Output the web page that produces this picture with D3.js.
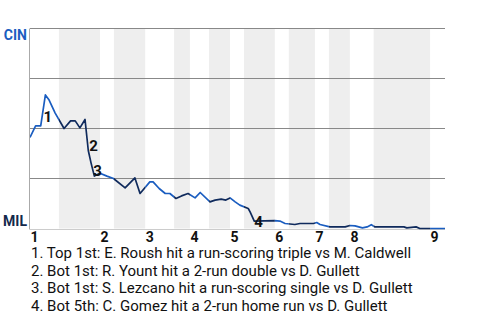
<!DOCTYPE html>
<html>
<head>
<meta charset="utf-8">
<script src="https://cdn.jsdelivr.net/npm/d3@7"></script>
<style>
  body { margin: 0; background: #fff; }
  svg { font-family: Roboto, "Liberation Sans", sans-serif; }
</style>
</head>
<body>
<svg width="480" height="320"></svg>
<script>
// game progress (play units) and CIN win probability (%)
var plays = [0, 1.2, 2.3, 3.3, 4.1, 5.4, 7.3, 8.7, 9.7, 10.7, 11.8, 12.5, 13.1, 13.8,
  15, 16.5, 17.9, 20.4, 22.5, 23.6, 25.7, 26.4, 27.7, 29, 30, 31.3, 32.5, 33.9,
  35.4, 36.5, 38.6, 39.7, 41, 42, 42.9, 44, 45, 46.8, 47.2, 48.1, 52.5, 53.6,
  54.7, 56.8, 57.9, 60.8, 61.5, 62.2, 64.3, 67.6, 68.6, 69.7, 71.3, 72.3, 73.2,
  74, 80.2, 80.8, 82.8, 83.6, 89];
var cinProb = [45.5, 51.3, 51.3, 66.8, 64.2, 57.7, 50, 53.8, 53.8, 50.3, 54.5, 39, 32.7, 26.2,
  27.6, 26.2, 25, 20.3, 25.3, 17.5, 23.3, 23.3, 20, 17.5, 17.5, 15, 16.3, 17.5,
  15.3, 18, 13.3, 14.2, 14.7, 14.2, 15.3, 13.3, 11.7, 10, 8.3, 3.7, 3.9, 3.7,
  2.5, 2, 2.5, 2.5, 3, 2, 0.8, 0.8, 1.5, 1.3, 0.3, 0.8, 1.9,
  0.8, 0.8, 0.3, 0.8, 0, 0];

// half-inning boundaries (top 1st, bot 1st, top 2nd, ...)
var halfStarts = [0, 6.2, 15, 18, 24.7, 30.9, 34.3, 38.4, 42.9, 45.9, 52.5, 55.5,
  61.1, 64.1, 68.6, 73.7, 85.8];
var gameEnd = 89;
var inningLabels = ["1", "2", "3", "4", "5", "6", "7", "8", "9"];

var teams = ["CIN", "MIL"];
var eventPlays = [3.3, 12.5, 13.8, 48.1];
var eventLabels = ["1", "2", "3", "4"];
var eventNotes = [
  "1. Top 1st: E. Roush hit a run-scoring triple vs M. Caldwell",
  "2. Bot 1st: R. Yount hit a 2-run double vs D. Gullett",
  "3. Bot 1st: S. Lezcano hit a run-scoring single vs D. Gullett",
  "4. Bot 5th: C. Gomez hit a 2-run home run vs D. Gullett"
];

var cinBlue = "#1a5dc0", milNavy = "#0f2a5c";

var svg = d3.select("svg");
var x = d3.scaleLinear().domain([0, gameEnd]).range([30, 445]);
var y = d3.scaleLinear().domain([0, 100]).range([228.5, 28.5]);

// half innings as [start, end, isBottom]
var halves = halfStarts.map(function(s, i) {
  return { start: s, end: i < halfStarts.length - 1 ? halfStarts[i + 1] : gameEnd, bottom: i % 2 == 1 };
});

// shaded bottom halves
svg.append("g").selectAll("rect")
    .data(halves.filter(function(d) { return d.bottom; }))
    .enter().append("rect")
    .attr("x", function(d) { return x(d.start); })
    .attr("y", y(100))
    .attr("width", function(d) { return x(d.end) - x(d.start); })
    .attr("height", y(0) - y(100))
    .attr("fill", "#eeeeee");

// grid lines
svg.append("g").selectAll("line")
    .data([100, 75, 50, 25])
    .enter().append("line")
    .attr("x1", 30).attr("x2", 445)
    .attr("y1", function(d) { return y(d); })
    .attr("y2", function(d) { return y(d); })
    .attr("stroke", "#888")
    .attr("stroke-width", 1.2);

svg.append("line")
    .attr("x1", 30).attr("x2", 445)
    .attr("y1", y(0) + 1).attr("y2", y(0) + 1)
    .attr("stroke", "#ccc");
svg.append("line")
    .attr("x1", 29.5).attr("x2", 29.5)
    .attr("y1", y(100)).attr("y2", y(0) + 1)
    .attr("stroke", "#aaa");

// win probability line, coloured by batting team via clip paths
var pts = plays.map(function(p, i) { return [p, cinProb[i]]; });
var line = d3.line()
    .x(function(d) { return x(d[0]); })
    .y(function(d) { return y(d[1]); });

var defs = svg.append("defs");
[false, true].forEach(function(isBottom) {
  var id = isBottom ? "clipBot" : "clipTop";
  defs.append("clipPath").attr("id", id).selectAll("rect")
      .data(halves.filter(function(d) { return d.bottom == isBottom; }))
      .enter().append("rect")
      .attr("x", function(d) { return x(d.start); })
      .attr("y", 0)
      .attr("width", function(d) { return x(d.end) - x(d.start) + 0.01; })
      .attr("height", 320);
  svg.append("path")
      .datum(pts)
      .attr("clip-path", "url(#" + id + ")")
      .attr("fill", "none")
      .attr("stroke", isBottom ? milNavy : cinBlue)
      .attr("stroke-width", 1.7)
      .attr("stroke-linejoin", "round")
      .attr("d", line);
});

// event markers
var labelDx = [-2, 1, -1, 0];
var labelDy = [27, 0, 0, 6];
svg.append("g").selectAll("text")
    .data(eventPlays)
    .enter().append("text")
    .attr("x", function(d, i) { return x(d) + labelDx[i]; })
    .attr("y", function(d, i) {
      var j = plays.indexOf(d);
      return y(cinProb[j]) + labelDy[i];
    })
    .attr("font-size", 15)
    .attr("font-weight", "bold")
    .attr("fill", "#111")
    .text(function(d, i) { return eventLabels[i]; });

// team labels
svg.append("text")
    .attr("x", 27).attr("y", y(100) + 11)
    .attr("text-anchor", "end")
    .attr("font-size", 14).attr("font-weight", "bold")
    .attr("fill", cinBlue)
    .text(teams[0]);
svg.append("text")
    .attr("x", 27).attr("y", y(0) - 3)
    .attr("text-anchor", "end")
    .attr("font-size", 14).attr("font-weight", "bold")
    .attr("fill", "#13294b")
    .text(teams[1]);

// inning labels
svg.append("g").selectAll("text")
    .data(halves.filter(function(d) { return !d.bottom; }))
    .enter().append("text")
    .attr("x", function(d) { return x(d.start) + 0.5; })
    .attr("y", 242)
    .attr("font-size", 14)
    .attr("font-weight", "bold")
    .attr("fill", "#111")
    .text(function(d, i) { return inningLabels[i]; });

// notes
svg.append("g").selectAll("text")
    .data(eventNotes)
    .enter().append("text")
    .attr("x", 31)
    .attr("y", function(d, i) { return 258 + i * 17.6; })
    .attr("font-size", 15)
    .attr("fill", "#111")
    .text(function(d) { return d; });
</script>
</body>
</html>
